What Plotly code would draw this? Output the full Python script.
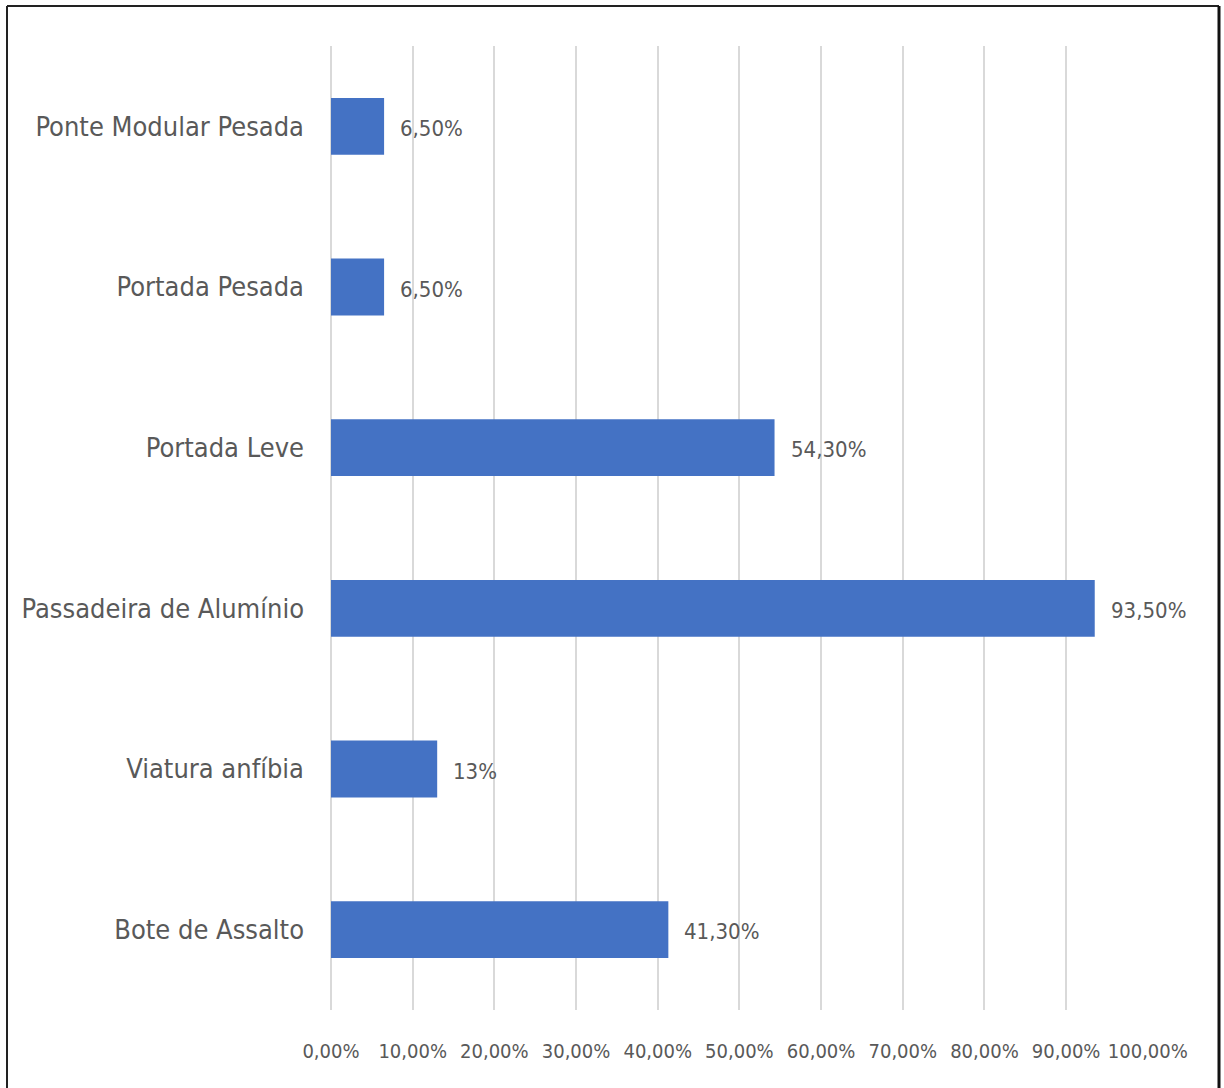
import plotly.graph_objects as go

# Data
categories = ["Bote de Assalto", "Viatura anfíbia", "Passadeira de Alumínio",
              "Portada Leve", "Portada Pesada", "Ponte Modular Pesada"]
values = [41.3, 13, 93.5, 54.3, 6.5, 6.5]
tick_values = [0, 10, 20, 30, 40, 50, 60, 70, 80, 90, 100]
tick_labels = ["0,00%", "10,00%", "20,00%", "30,00%", "40,00%", "50,00%",
               "60,00%", "70,00%", "80,00%", "90,00%", "100,00%"]


def pct_label(v):
    if float(v).is_integer():
        return f"{int(v)}%"
    return f"{v:.2f}".replace(".", ",") + "%"


W, H = 1224, 1088
L, R, T, B = 331, 76, 46, 78
FONT = "Liberation Sans Narrow, DejaVu Sans Condensed, Arial Narrow, sans-serif"
TEXT = "#595959"
GRID = "#d9d9d9"

fig = go.Figure(go.Bar(
    x=values, y=categories, orientation="h",
    marker=dict(color="#4472C4", line=dict(width=0)),
    width=0.354,
    hoverinfo="skip",
))

for c, v in zip(categories, values):
    fig.add_annotation(x=v, y=c, xref="x", yref="y", text=pct_label(v),
                       showarrow=False, xanchor="left", xshift=14, yshift=-2,
                       font=dict(family=FONT, size=22, color=TEXT))

# outer frame (left, top, right edges)
pw, ph = W - L - R, H - T - B
def px(x):
    return (x - L) / pw
def py(y):
    return (H - B - y) / ph

frame = dict(type="line", xref="paper", yref="paper", line=dict(color="#222222", width=2))
fig.add_shape(**frame, x0=px(7), x1=px(7), y0=py(6), y1=py(H + 5))
fig.add_shape(**frame, x0=px(7), x1=px(1219), y0=py(6), y1=py(6))
fig.add_shape(type="line", xref="paper", yref="paper", line=dict(color="#111111", width=3),
              x0=px(1219), x1=px(1219), y0=py(6), y1=py(H + 5))

fig.update_layout(
    width=W, height=H,
    margin=dict(l=L, r=R, t=T, b=B, autoexpand=False),
    paper_bgcolor="white", plot_bgcolor="white",
    showlegend=False,
    xaxis=dict(range=[0, 100.02], tickvals=tick_values, ticktext=tick_labels,
               showgrid=True, gridcolor=GRID, gridwidth=2,
               zeroline=True, zerolinecolor=GRID, zerolinewidth=2,
               showline=False, ticks="", tickangle=0,
               automargin=False,
               tickfont=dict(family=FONT, size=20, color=TEXT),
               ticklabelstandoff=27, fixedrange=True),
    yaxis=dict(showgrid=False, zeroline=False, showline=False, ticks="",
               automargin=False,
               tickfont=dict(family=FONT, size=27, color=TEXT),
               ticklabelstandoff=26, fixedrange=True),
)

fig.write_html("out.html")
